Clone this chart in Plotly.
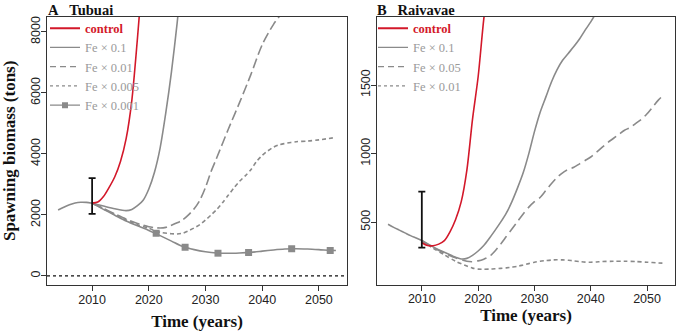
import plotly.graph_objects as go

# ---------------- Panel A: Tubuai ----------------
a_hist_years = [2004, 2005, 2006, 2007, 2008, 2009, 2010]
a_hist_vals = [2160, 2250, 2330, 2390, 2415, 2410, 2384]

a_ctrl_years = [2010, 2011, 2012, 2013, 2014, 2015, 2016, 2017, 2018, 2019]
a_ctrl_vals = [2384, 2420, 2600, 2900, 3250, 3750, 4500, 5750, 7800, 10100]

a_f01_years = [2010, 2012, 2014, 2016, 2017, 2018, 2019, 2020, 2021, 2022, 2023, 2024, 2025, 2026]
a_f01_vals = [2384, 2290, 2200, 2140, 2180, 2300, 2480, 2850, 3400, 4200, 5350, 6700, 8300, 10100]

a_f001_years = [2010, 2012, 2014, 2016, 2018, 2020, 2022, 2023, 2024, 2025, 2026, 2027, 2028, 2029,
                2030, 2031, 2032, 2034, 2036, 2038, 2040, 2042, 2043, 2044, 2046]
a_f001_vals = [2384, 2210, 2030, 1860, 1720, 1610, 1570, 1590, 1660, 1740, 1840, 2000, 2200, 2480,
               2900, 3430, 3880, 4800, 5680, 6600, 7580, 8250, 8500, 8700, 9000]

a_f0005_years = [2010, 2012, 2014, 2016, 2018, 2020, 2022, 2024, 2025, 2026, 2027, 2028, 2029, 2030,
                 2031, 2032, 2033, 2034, 2035, 2036, 2037, 2038, 2039, 2040, 2041, 2042, 2043, 2044,
                 2046, 2048, 2050, 2053]
a_f0005_vals = [2384, 2200, 2010, 1830, 1680, 1560, 1430, 1380, 1375, 1400, 1480, 1570, 1680, 1830,
                2000, 2180, 2400, 2640, 2880, 3100, 3280, 3480, 3750, 3950, 4100, 4220, 4300, 4340,
                4400, 4420, 4460, 4540]

a_f0001_years = [2010, 2012, 2014, 2016, 2018, 2020, 2022, 2024, 2026, 2028, 2030, 2032, 2034, 2036,
                 2038, 2040, 2042, 2044, 2046, 2048, 2050, 2052, 2053]
a_f0001_vals = [2384, 2180, 1990, 1800, 1640, 1490, 1320, 1140, 960, 860, 790, 750, 740, 750,
                770, 810, 850, 880, 890, 880, 860, 835, 830]
a_f0001_mark_years = [2021.3, 2026.4, 2032.2, 2037.6, 2045.2, 2052.0]
a_f0001_mark_vals = [1400, 941, 744, 765, 885, 830]

a_err_year = [2010]
a_err_mid = [2384]
a_err_hi = [3203]
a_err_lo = [2033]

# ---------------- Panel B: Raivavae ----------------
b_hist_years = [2004, 2005, 2006, 2007, 2008, 2009, 2010]
b_hist_vals = [485, 462, 442, 422, 402, 384, 366]

b_ctrl_years = [2010, 2011, 2012, 2013, 2014, 2015, 2016, 2017, 2018, 2019, 2020, 2021, 2022]
b_ctrl_vals = [350, 330, 328, 340, 365, 430, 520, 650, 880, 1250, 1560, 1980, 2300]

b_f01_years = [2010, 2012, 2014, 2016, 2017, 2018, 2019, 2020, 2021, 2022, 2023, 2024, 2025, 2026,
               2027, 2028, 2029, 2030, 2031, 2032, 2033, 2034, 2035, 2036, 2037, 2038, 2039, 2040, 2041]
b_f01_vals = [366, 320, 280, 245, 232, 236, 258, 290, 330, 383, 440, 500, 566, 650,
              750, 860, 1000, 1160, 1300, 1410, 1520, 1610, 1680, 1730, 1780, 1835, 1900, 1960, 2030]

b_f005_years = [2010, 2012, 2014, 2016, 2018, 2019, 2020, 2021, 2022, 2023, 2024, 2025, 2026, 2027,
                2028, 2029, 2030, 2031, 2032, 2033, 2034, 2035, 2036, 2037, 2038, 2039, 2040, 2041,
                2042, 2043, 2044, 2045, 2046, 2047, 2048, 2049, 2050, 2051, 2052, 2053]
b_f005_vals = [366, 315, 275, 240, 215, 212, 218, 230, 250, 290, 340, 395, 450, 505,
               560, 610, 650, 680, 730, 780, 825, 860, 885, 900, 925, 950, 975, 1010,
               1045, 1080, 1110, 1140, 1170, 1190, 1220, 1250, 1290, 1340, 1390, 1430]

b_f001_years = [2010, 2012, 2014, 2016, 2018, 2019, 2020, 2021, 2022, 2023, 2024, 2025, 2026, 2027,
                2028, 2029, 2030, 2031, 2032, 2033, 2034, 2035, 2036, 2037, 2038, 2039, 2040, 2041,
                2042, 2044, 2046, 2048, 2050, 2052, 2053]
b_f001_vals = [366, 310, 262, 215, 180, 165, 158, 157, 158, 160, 163, 167, 172, 178,
               188, 198, 208, 215, 220, 224, 226, 225, 222, 218, 213, 209, 208, 210,
               213, 215, 215, 213, 208, 203, 201]

b_err_year = [2010]
b_err_mid = [350]
b_err_hi = [723]
b_err_lo = [315]

x_ticks = [2010, 2020, 2030, 2040, 2050]
a_y_ticks = [0, 2000, 4000, 6000, 8000]
b_y_ticks = [500, 1000, 1500]

# ---------------- styling ----------------
RED = "#d3182a"
GRAY = "#8a8a8a"
LEG_GRAY = "#9a9a9a"
AXC = "#333333"
SERIF = "Liberation Serif, Times New Roman, serif"
SANS = "Liberation Sans, Arial, sans-serif"
LW = 1.6

fig = go.Figure()


def line(x, y, name, dash="solid", color=GRAY, xa="x", ya="y", legend="legend", show=True, width=LW):
    fig.add_trace(go.Scatter(
        x=x, y=y, mode="lines", name=name, showlegend=show, legend=legend,
        line=dict(color=color, dash=dash, width=width, shape="spline", smoothing=0.8),
        xaxis=xa, yaxis=ya, hoverinfo="skip"))


ctrl_name = '<span style="color:%s"><b>control</b></span>' % RED

# Panel A
line(a_hist_years, a_hist_vals, "hist", xa="x", ya="y", show=False)
line(a_f0001_years, a_f0001_vals, "Fe × 0.001 line", xa="x", ya="y", show=False)
line(a_f0005_years, a_f0005_vals, "Fe × 0.005", dash="4px,3px", xa="x", ya="y", show=False)
line(a_f001_years, a_f001_vals, "Fe × 0.01", dash="10px,4px", xa="x", ya="y", show=False)
line(a_f01_years, a_f01_vals, "Fe × 0.1", xa="x", ya="y", show=False)
line(a_ctrl_years, a_ctrl_vals, ctrl_name, color=RED, xa="x", ya="y", show=False)
fig.add_trace(go.Scatter(
    x=a_f0001_mark_years, y=a_f0001_mark_vals, mode="markers", showlegend=False,
    marker=dict(symbol="square", size=7, color=GRAY), xaxis="x", yaxis="y", hoverinfo="skip"))
fig.add_trace(go.Scatter(
    x=a_err_year, y=a_err_mid, mode="markers", showlegend=False,
    marker=dict(size=1, color="rgba(0,0,0,0)"),
    error_y=dict(type="data", symmetric=False,
                 array=[h - m for h, m in zip(a_err_hi, a_err_mid)],
                 arrayminus=[m - l for l, m in zip(a_err_lo, a_err_mid)],
                 color="#111111", thickness=1.8, width=3.5),
    xaxis="x", yaxis="y", hoverinfo="skip"))

# legend entries for A (legend-only traces)
leg_a = [
    (ctrl_name, RED, "solid", False, 2.0),
    ("Fe × 0.1", GRAY, "solid", False, 1.2),
    ("Fe × 0.01", GRAY, "6px,4px", False, 1.2),
    ("Fe × 0.005", GRAY, "3px,3px", False, 1.2),
    ("Fe × 0.001", GRAY, "solid", True, 1.2),
]
for nm, col, ds, mk, w in leg_a:
    fig.add_trace(go.Scatter(
        x=[None], y=[None], mode="lines+markers" if mk else "lines", name=nm, legend="legend",
        line=dict(color=col, dash=ds, width=w),
        marker=dict(symbol="square", size=6, color=GRAY), xaxis="x", yaxis="y"))

# Panel B
line(b_hist_years, b_hist_vals, "hist", xa="x2", ya="y2", show=False)
line(b_f001_years, b_f001_vals, "Fe × 0.01", dash="4px,3px", xa="x2", ya="y2", show=False)
line(b_f005_years, b_f005_vals, "Fe × 0.05", dash="10px,5px", xa="x2", ya="y2", show=False)
line(b_f01_years, b_f01_vals, "Fe × 0.1", xa="x2", ya="y2", show=False)
line(b_ctrl_years, b_ctrl_vals, ctrl_name, color=RED, xa="x2", ya="y2", show=False)
fig.add_trace(go.Scatter(
    x=b_err_year, y=b_err_mid, mode="markers", showlegend=False,
    marker=dict(size=1, color="rgba(0,0,0,0)"),
    error_y=dict(type="data", symmetric=False,
                 array=[h - m for h, m in zip(b_err_hi, b_err_mid)],
                 arrayminus=[m - l for l, m in zip(b_err_lo, b_err_mid)],
                 color="#111111", thickness=1.8, width=3.5),
    xaxis="x2", yaxis="y2", hoverinfo="skip"))

leg_b = [
    (ctrl_name, RED, "solid", 2.0),
    ("Fe × 0.1", GRAY, "solid", 1.2),
    ("Fe × 0.05", GRAY, "6px,4px", 1.2),
    ("Fe × 0.01", GRAY, "3px,3px", 1.2),
]
for nm, col, ds, w in leg_b:
    fig.add_trace(go.Scatter(
        x=[None], y=[None], mode="lines", name=nm, legend="legend2",
        line=dict(color=col, dash=ds, width=w), xaxis="x2", yaxis="y2"))

# zero reference line in A
fig.add_hline(y=0, line=dict(color="#111111", dash="dot", width=1.2), xref="x", yref="y")

W, H = 680, 336
axis_common = dict(showgrid=False, zeroline=False, showline=True, mirror=True,
                   linecolor=AXC, linewidth=1.3, ticks="outside", ticklen=5, tickwidth=1.1,
                   tickcolor=AXC, tickfont=dict(family=SANS, size=12.5, color="#222"))

fig.update_layout(
    width=W, height=H, margin=dict(l=0, r=0, t=0, b=0),
    paper_bgcolor="white", plot_bgcolor="white",
    xaxis=dict(domain=[47 / W, 347 / W], range=[2002.04, 2054.96], tickvals=x_ticks,
               ticklabelstandoff=-2,
               title=dict(text="<b>Time (years)</b>", font=dict(family=SERIF, size=17, color="#111"),
                          standoff=8), anchor="y", **axis_common),
    yaxis=dict(domain=[1 - 285 / H, 1 - 16.7 / H], range=[-300, 8500], tickvals=a_y_ticks,
               tickangle=-90, ticklabelstandoff=-4,
               title=dict(text="<b>Spawning biomass (tons)</b>", font=dict(family=SERIF, size=17, color="#111"),
                          standoff=9), anchor="x", **axis_common),
    xaxis2=dict(domain=[377 / W, 675 / W], range=[2002.04, 2054.96], tickvals=x_ticks,
                ticklabelstandoff=-3,
                title=dict(text="<b>Time (years)</b>", font=dict(family=SERIF, size=17, color="#111"),
                           standoff=1), anchor="y2", **axis_common),
    yaxis2=dict(domain=[1 - 285 / H, 1 - 16.7 / H], range=[42, 1998], tickvals=b_y_ticks,
                tickangle=-90, ticklabelstandoff=-4, anchor="x2", **axis_common),
    legend=dict(x=45 / W, y=1 - 13.5 / H, xanchor="left", yanchor="top", bgcolor="rgba(0,0,0,0)",
                font=dict(family=SERIF, size=12.5, color=LEG_GRAY), itemwidth=30,
                tracegroupgap=0, traceorder="normal", borderwidth=0),
    legend2=dict(x=373 / W, y=1 - 13.5 / H, xanchor="left", yanchor="top", bgcolor="rgba(0,0,0,0)",
                 font=dict(family=SERIF, size=12.5, color=LEG_GRAY), itemwidth=30,
                 tracegroupgap=0, traceorder="normal", borderwidth=0),
    annotations=[
        dict(text="<b>A\u00a0\u00a0\u00a0Tubuai</b>", x=46 / W, y=1 - 0 / H, xref="paper", yref="paper",
             xanchor="left", yanchor="top", showarrow=False,
             font=dict(family=SERIF, size=14.5, color="#111")),
        dict(text="<b>B\u00a0\u00a0\u00a0Raivavae</b>", x=375 / W, y=1 - 0 / H, xref="paper", yref="paper",
             xanchor="left", yanchor="top", showarrow=False,
             font=dict(family=SERIF, size=14.5, color="#111")),
    ],
    showlegend=True,
)

fig.write_html("out.html", config={"displayModeBar": False},
               post_script="document.body.style.margin='0';")
